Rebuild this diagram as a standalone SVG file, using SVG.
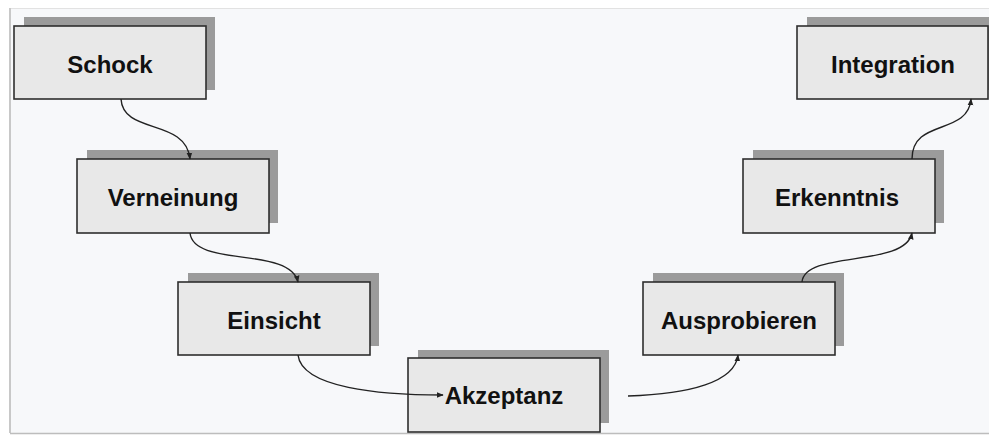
<svg xmlns="http://www.w3.org/2000/svg" width="989" height="436" viewBox="0 0 989 436">
<defs>
<style>
.shadow{fill:#9b9b9b}
.box{fill:#e8e8e8;stroke:#2e2e2e;stroke-width:1.6}
.lbl{font-family:"Liberation Sans",Arial,sans-serif;font-weight:bold;font-size:24px;fill:#111;text-anchor:middle}
.conn{fill:none;stroke:#222;stroke-width:1.4}
</style>
<marker id="arr" viewBox="0 0 10 10" refX="9" refY="5" markerWidth="7" markerHeight="7" markerUnits="userSpaceOnUse" orient="auto">
<path d="M0,1 L10,5 L0,9 Z" fill="#222"/>
</marker>
</defs>
<rect x="0" y="0" width="989" height="436" fill="#ffffff"/>
<rect x="10" y="8" width="979" height="425" fill="#f7f8fa"/>
<line x1="10" y1="8.5" x2="989" y2="8.5" stroke="#e2e2e2" stroke-width="1"/>
<line x1="10" y1="8" x2="10" y2="433" stroke="#c8c8c8" stroke-width="2"/>
<line x1="10" y1="433.5" x2="989" y2="433.5" stroke="#bdbdbd" stroke-width="1.5"/>

<g id="node-schock">
<rect class="shadow" x="24" y="17" width="191" height="73"/>
<rect class="box" x="14" y="26" width="192" height="73"/>
<text class="lbl" x="110" y="73">Schock</text>
</g>
<g id="node-verneinung">
<rect class="shadow" x="87" y="150" width="191" height="73"/>
<rect class="box" x="77" y="159" width="192" height="74"/>
<text class="lbl" x="173" y="206">Verneinung</text>
</g>
<g id="node-einsicht">
<rect class="shadow" x="188" y="273" width="191" height="73"/>
<rect class="box" x="178" y="282" width="192" height="73"/>
<text class="lbl" x="274" y="329">Einsicht</text>
</g>
<g id="node-akzeptanz">
<rect class="shadow" x="418" y="350" width="191" height="73"/>
<rect class="box" x="408" y="358" width="192" height="74"/>
<text class="lbl" x="504" y="404">Akzeptanz</text>
</g>
<g id="node-ausprobieren">
<rect class="shadow" x="653" y="273" width="191" height="73"/>
<rect class="box" x="643" y="282" width="192" height="73"/>
<text class="lbl" x="739" y="329">Ausprobieren</text>
</g>
<g id="node-erkenntnis">
<rect class="shadow" x="753" y="150" width="191" height="73"/>
<rect class="box" x="743" y="159" width="192" height="74"/>
<text class="lbl" x="837" y="206">Erkenntnis</text>
</g>
<g id="node-integration">
<rect class="shadow" x="807" y="17" width="191" height="73"/>
<rect class="box" x="797" y="26" width="191" height="73"/>
<text class="lbl" x="893" y="73">Integration</text>
</g>

<g id="connectors">
<path class="conn" marker-end="url(#arr)" d="M121,99 C123,135 186,118 190,159"/>
<path class="conn" marker-end="url(#arr)" d="M190,233 C194,268 290,246 298,282"/>
<path class="conn" marker-end="url(#arr)" d="M298,355 C302,388 380,395 443,395"/>
<path class="conn" marker-end="url(#arr)" d="M628,396 C690,394 735,382 738,355"/>
<path class="conn" marker-end="url(#arr)" d="M802,282 C805,250 905,268 912,233"/>
<path class="conn" marker-end="url(#arr)" d="M912,159 C912,118 968,136 971,99"/>
</g>
</svg>
